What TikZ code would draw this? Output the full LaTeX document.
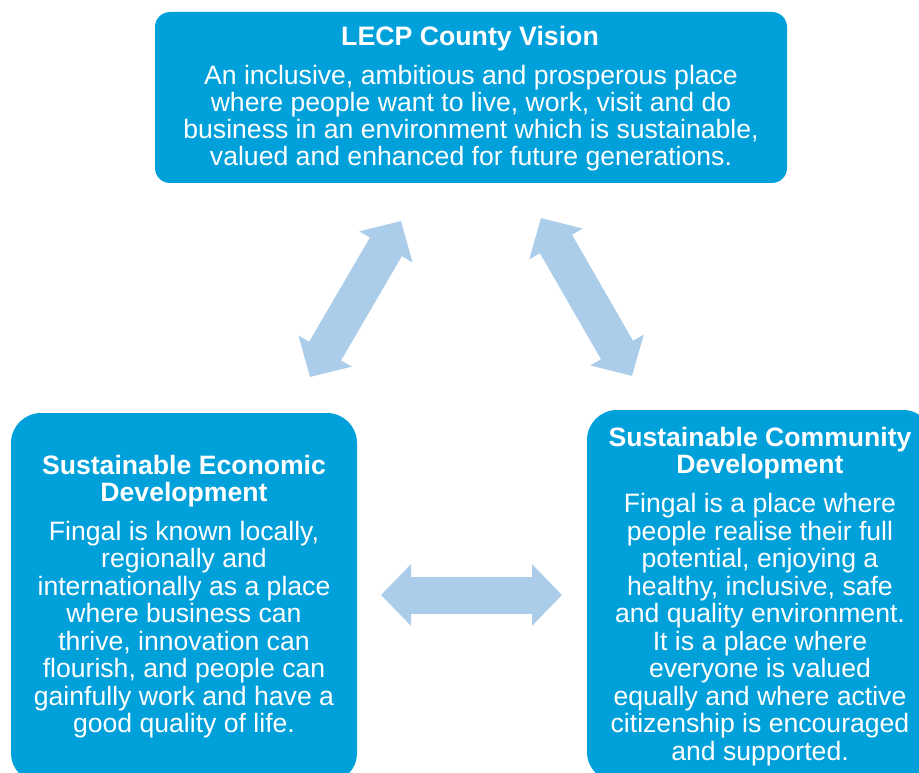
\documentclass[tikz,border=0pt]{standalone}
\usepackage{fontspec}
\setmainfont{Liberation Sans}
\usetikzlibrary{arrows.meta}
\definecolor{boxblue}{RGB}{0,161,219}
\definecolor{arrowblue}{RGB}{171,205,234}
\newcommand{\mytitle}[3]{\parbox[t]{#1}{\centering\fontsize{#2}{27}\selectfont\bfseries #3}}
\newcommand{\mybody}[3]{\parbox[t]{#1}{\centering\fontsize{26.6}{#2}\selectfont #3}}
\begin{document}
\begin{tikzpicture}[x=1pt,y=-1pt,
  panel/.style={fill=boxblue, draw=none, rounded corners=#1, inner sep=0pt},
  txt/.style={text=white, inner sep=0pt, anchor=base},
  conn/.style={draw=arrowblue, line width=37pt,
    {Triangle[length=30pt,width=60pt]}-{Triangle[length=30pt,width=60pt]}}]
\useasboundingbox (0,0) rectangle (919,773);
\clip (0,0) rectangle (919,773);
% boxes
\node[panel=15pt, minimum width=632pt, minimum height=171pt] (vision) at (471,97.5) {};
\node[panel=30pt, minimum width=346pt, minimum height=370pt] (econ) at (184,598) {};
\node[panel=30pt, minimum width=346pt, minimum height=372pt] (comm) at (760,596) {};
% texts
\node[txt] (visiontitle) at (470,46) {\mytitle{600pt}{26.7}{LECP County Vision}};
\node[txt] (visionbody) at (471,85) {\mybody{640pt}{27}{An inclusive, ambitious and prosperous place\\
where people want to live, work, visit and do\\
business in an environment which is sustainable,\\
valued and enhanced for future generations.}};
\node[txt] (econtitle) at (184,474) {\mytitle{340pt}{26.6}{Sustainable Economic\\Development}};
\node[txt] (econbody) at (184,540) {\mybody{340pt}{27.5}{Fingal is known locally,\\
regionally and\\
internationally as a place\\
where business can\\
thrive, innovation can\\
flourish, and people can\\
gainfully work and have a\\
good quality of life.}};
\node[txt] (commtitle) at (760,446.5) {\mytitle{340pt}{26.6}{Sustainable Community\\Development}};
\node[txt] (commbody) at (760,512.5) {\mybody{340pt}{27.5}{Fingal is a place where\\
people realise their full\\
potential, enjoying a\\
healthy, inclusive, safe\\
and quality environment.\\
It is a place where\\
everyone is valued\\
equally and where active\\
citizenship is encouraged\\
and supported.}};
% arrows
\coordinate (l1) at (310,377);
\coordinate (l2) at (401,221);
\coordinate (r1) at (541,218);
\coordinate (r2) at (632,376);
\coordinate (h1) at (381,595);
\coordinate (h2) at (562,595);
\draw[conn] (l1) -- (l2);
\draw[conn] (r1) -- (r2);
\draw[conn] (h1) -- (h2);
\end{tikzpicture}
\end{document}
